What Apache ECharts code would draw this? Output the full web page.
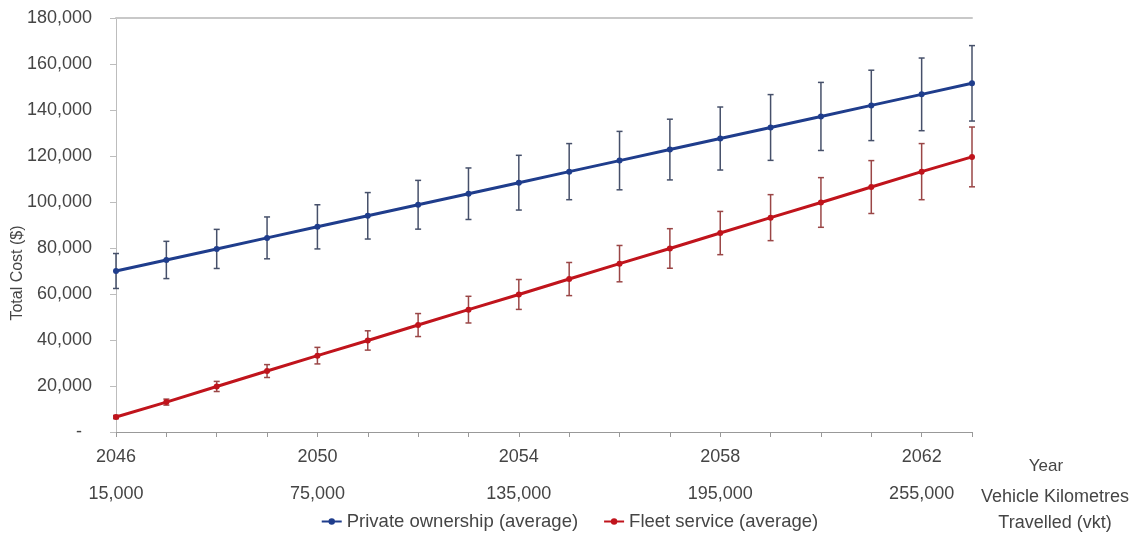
<!DOCTYPE html>
<html>
<head>
<meta charset="utf-8">
<script src="https://cdn.jsdelivr.net/npm/echarts@6/dist/echarts.min.js"></script>
<style>
html,body{margin:0;padding:0;background:#fff;}
#chart{width:1139px;height:534px;}
</style>
</head>
<body>
<div id="chart"></div>
<script>
const years = ['2046','2047','2048','2049','2050','2051','2052','2053','2054','2055','2056','2057','2058','2059','2060','2061','2062','2063'];
const vkt = [15000,30000,45000,60000,75000,90000,105000,120000,135000,150000,165000,180000,195000,210000,225000,240000,255000,270000];
const privateAvg = [70000,74800,79600,84400,89200,94000,98800,103600,108400,113200,118000,122800,127600,132400,137200,142000,146800,151600];
const privateErr = [7600,8100,8500,9100,9600,10100,10600,11200,11900,12200,12700,13200,13700,14300,14800,15300,15800,16400];
const fleetAvg = [6500,13000,19800,26500,33200,39800,46500,53200,59800,66500,73200,79800,86500,93200,99800,106500,113200,119600];
const fleetErr = [700,1300,2200,2800,3600,4200,5000,5800,6500,7200,7900,8600,9400,10000,10800,11500,12200,13000];
const yMin = 0, yMax = 180000, yStep = 20000;

const fmt = v => String(v).replace(/\B(?=(\d{3})+(?!\d))/g, ',');
const FONT = 'Liberation Sans, Arial, sans-serif';
const TXT = '#454545';

function errData(avg, err){
  return avg.map((v,i)=>[i, v-err[i], v+err[i]]);
}
function errRender(color){
  return function(params, api){
    const x = api.value(0);
    const lo = api.coord([x, api.value(1)]);
    const hi = api.coord([x, api.value(2)]);
    const w = 3;
    const st = {stroke: color, lineWidth: 1.5};
    return {type:'group', children:[
      {type:'line', shape:{x1:lo[0],y1:lo[1],x2:hi[0],y2:hi[1]}, style:st},
      {type:'line', shape:{x1:hi[0]-w,y1:hi[1],x2:hi[0]+w,y2:hi[1]}, style:st},
      {type:'line', shape:{x1:lo[0]-w,y1:lo[1],x2:lo[0]+w,y2:lo[1]}, style:st}
    ]};
  };
}

const chart = echarts.init(document.getElementById('chart'));
chart.setOption({
  animation:false,
  textStyle:{fontFamily:FONT},
  grid:{left:116, right:167, top:18, bottom:102, containLabel:false},
  legend:{
    data:['Private ownership (average)','Fleet service (average)'],
    left:'center', top:507, itemWidth:20, itemHeight:8, itemGap:25,
    textStyle:{fontSize:18.5, color:TXT, fontFamily:FONT}
  },
  xAxis:[
    {type:'category', data:years, boundaryGap:false, position:'bottom',
     axisLine:{lineStyle:{color:'#999', width:1}},
     axisTick:{show:true, length:5, interval:0, lineStyle:{color:'#999'}},
     axisLabel:{interval:3, margin:16, fontSize:18, color:TXT, fontFamily:FONT}},
    {type:'category', data:vkt.map(fmt), boundaryGap:false, position:'bottom', offset:37,
     axisLine:{show:false}, axisTick:{show:false},
     axisLabel:{interval:3, margin:16, fontSize:18, color:TXT, fontFamily:FONT}},
    {type:'category', data:years, boundaryGap:false, position:'top',
     axisLine:{lineStyle:{color:'#c8c8c8', width:2}}, axisTick:{show:false}, axisLabel:{show:false}}
  ],
  yAxis:{type:'value', min:yMin, max:yMax, interval:yStep,
    axisLine:{show:true, lineStyle:{color:'#bdbdbd'}},
    axisTick:{show:true, length:6, lineStyle:{color:'#bdbdbd'}},
    splitLine:{show:false},
    axisLabel:{margin:24, fontSize:18, color:TXT, fontFamily:FONT,
      formatter: v => v === 0 ? '-  ' : fmt(v)}
  },
  series:[
    {name:'privErr', type:'custom', xAxisIndex:0, z:1, renderItem:errRender('#46506a'),
     data:errData(privateAvg, privateErr), encode:{x:0, y:[1,2]}, silent:true},
    {name:'fleetErr', type:'custom', xAxisIndex:0, z:1, renderItem:errRender('#9a4646'),
     data:errData(fleetAvg, fleetErr), encode:{x:0, y:[1,2]}, silent:true},
    {name:'Private ownership (average)', type:'line', xAxisIndex:0, z:3, data:privateAvg,
     symbol:'circle', symbolSize:6, color:'#1f3d8c',
     lineStyle:{width:3, color:'#1f3d8c'}, itemStyle:{color:'#1f3d8c'}},
    {name:'Fleet service (average)', type:'line', xAxisIndex:0, z:3, data:fleetAvg,
     symbol:'circle', symbolSize:6, color:'#c0141c',
     lineStyle:{width:3, color:'#c0141c'}, itemStyle:{color:'#c0141c'}}
  ],
  graphic:[
    {type:'text', x:18, y:273, rotation:Math.PI/2,
     style:{text:'Total Cost ($)', fontSize:16, fill:TXT, align:'center', verticalAlign:'middle', fontFamily:FONT}},
    {type:'text', x:1046, y:466,
     style:{text:'Year', fontSize:17, fill:TXT, align:'center', verticalAlign:'middle', fontFamily:FONT}},
    {type:'text', x:1055, y:497,
     style:{text:'Vehicle Kilometres', fontSize:18, fill:TXT, align:'center', verticalAlign:'middle', fontFamily:FONT}},
    {type:'text', x:1055, y:523,
     style:{text:'Travelled (vkt)', fontSize:18, fill:TXT, align:'center', verticalAlign:'middle', fontFamily:FONT}}
  ]
});
</script>
</body>
</html>
